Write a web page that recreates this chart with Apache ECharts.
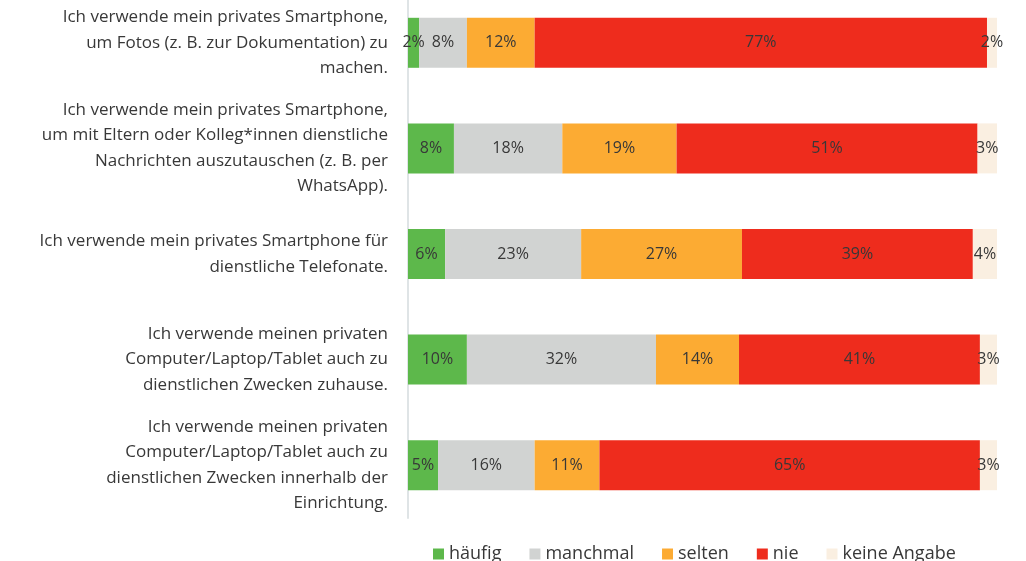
<!DOCTYPE html>
<html>
<head>
<meta charset="utf-8">
<style>
  html, body { margin: 0; padding: 0; background: #fff; }
  #chart { width: 1026px; height: 561px; }
</style>
<script src="https://cdn.jsdelivr.net/npm/echarts@6/dist/echarts.min.js"></script>
</head>
<body>
<div id="chart"></div>
<script>
// Kategorien (von oben nach unten)
var categories = [
  "Ich verwende mein privates Smartphone,\num Fotos (z. B. zur Dokumentation) zu\nmachen.",
  "Ich verwende mein privates Smartphone,\num mit Eltern oder Kolleg*innen dienstliche\nNachrichten auszutauschen (z. B. per\nWhatsApp).",
  "Ich verwende mein privates Smartphone für\ndienstliche Telefonate.",
  "Ich verwende meinen privaten\nComputer/Laptop/Tablet auch zu\ndienstlichen Zwecken zuhause.",
  "Ich verwende meinen privaten\nComputer/Laptop/Tablet auch zu\ndienstlichen Zwecken innerhalb der\nEinrichtung."
];
var seriesNames = ["häufig", "manchmal", "selten", "nie", "keine Angabe"];
var colors = ["#5db84b", "#d1d3d2", "#fcab33", "#ee2c1d", "#faefe1"];

// Anteile in % (aus Balkenlängen geschätzt)
var haeufig = [1.9, 7.8, 6.3, 10.0, 5.1];
var manchmal = [8.1, 18.4, 23.1, 32.1, 16.4];
var selten = [11.5, 19.4, 27.3, 14.1, 11.0];
var nie = [76.8, 51.1, 39.2, 40.9, 64.6];
var keineAngabe = [1.7, 3.3, 4.1, 2.9, 2.9];

var values = [haeufig, manchmal, selten, nie, keineAngabe];

var chart = echarts.init(document.getElementById("chart"));

var series = seriesNames.map(function (name, i) {
  return {
    name: name,
    type: "bar",
    stack: "total",
    barWidth: 50,
    data: values[i],
    itemStyle: { color: colors[i] },
    label: {
      show: true,
      position: "inside",
      color: "#383838",
      fontSize: 16,
      fontFamily: "Open Sans",
      formatter: function (p) {
        return Math.round(p.value) + "%";
      }
    }
  };
});

chart.setOption({
  animation: false,
  color: colors,
  grid: { left: 408, right: 29, top: -10, height: 528, outerBoundsMode: "none" },
  legend: {
    top: 540,
    left: 428,
    itemWidth: 11,
    itemHeight: 11,
    itemGap: 28,
    icon: "rect",
    textStyle: { color: "#383838", fontSize: 18, fontFamily: "Open Sans" },
    data: seriesNames
  },
  xAxis: {
    type: "value",
    min: 0,
    max: 100,
    show: false
  },
  yAxis: {
    type: "category",
    inverse: true,
    data: categories,
    axisTick: { show: false },
    axisLine: { show: true, lineStyle: { color: "#dfe4e6", width: 2 } },
    axisLabel: {
      margin: 20,
      color: "#383838",
      fontSize: 17,
      lineHeight: 25.5,
      align: "right",
      fontFamily: "Open Sans"
    }
  },
  series: series
});
</script>
</body>
</html>
